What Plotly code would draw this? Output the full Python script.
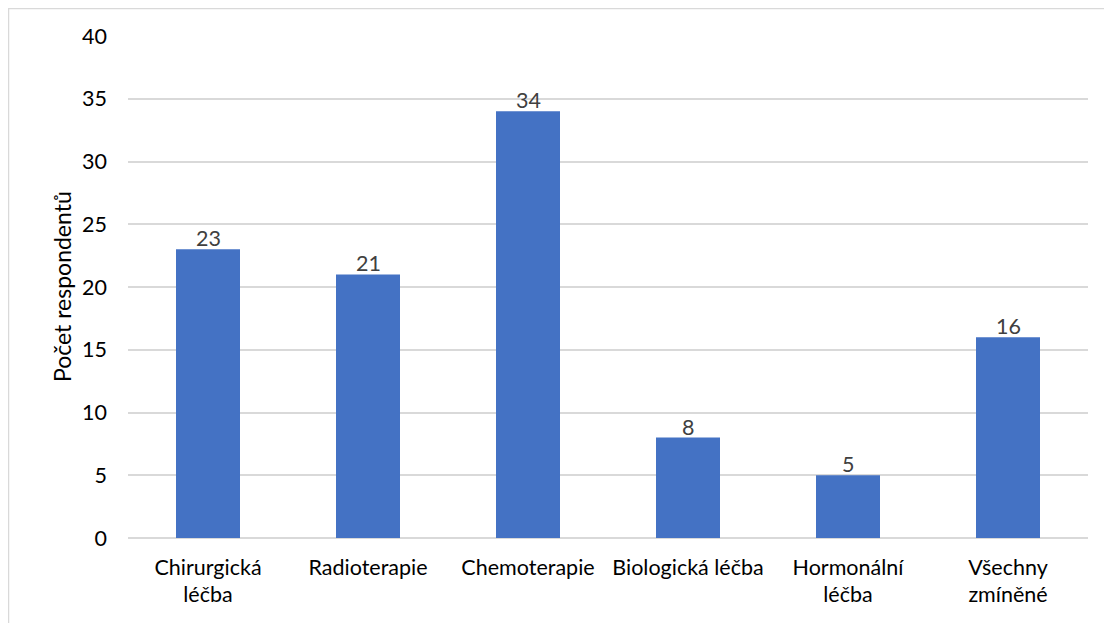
import plotly.graph_objects as go

categories = ["Chirurgická<br>léčba", "Radioterapie", "Chemoterapie", "Biologická léčba", "Hormonální<br>léčba", "Všechny<br>zmíněné"]
values = [23, 21, 34, 8, 5, 16]
y_ticks = [0, 5, 10, 15, 20, 25, 30, 35, 40]

FONT = "Lato, Carlito, Calibri, sans-serif"
FS = 21.5

# page body has an 8px margin; figure sized to fit the 1112x623 window
W, H = 1104, 615
L, R, T, B = 120, 24, 28, 85
pw, ph = W - L - R, H - T - B

fig = go.Figure()
fig.add_trace(go.Bar(
    x=categories, y=values,
    marker=dict(color="#4472C4", line=dict(width=0)),
))

fig.add_annotation(text="Počet respondentů", xref="paper", yref="paper",
                   x=-66 / pw, y=0.5, textangle=-90, showarrow=False,
                   xanchor="center", yanchor="middle",
                   font=dict(size=23, color="#000000", family=FONT))

for c, v in zip(categories, values):
    fig.add_annotation(x=c, y=v, xref="x", yref="y", text=str(v), showarrow=False,
                       xanchor="center", yanchor="bottom", yshift=-4,
                       font=dict(size=FS, color="#404040", family=FONT))

fig.update_layout(
    width=W, height=H,
    margin=dict(l=L, r=R, t=T, b=B),
    paper_bgcolor="white", plot_bgcolor="white",
    bargap=0.6,
    showlegend=False,
    font=dict(family=FONT, size=FS, color="#000000"),
    xaxis=dict(
        showgrid=False, showline=False, ticks="",
        tickfont=dict(size=FS, color="#000000"),
        ticklabelstandoff=14,
    ),
    yaxis=dict(
        range=[0, 40], tickvals=y_ticks,
        showgrid=True, gridcolor="#D9D9D9", gridwidth=1.5,
        zeroline=True, zerolinecolor="#D9D9D9", zerolinewidth=1.5,
        showline=False, ticks="",
        tickfont=dict(size=FS, color="#000000"),
        ticklabelstandoff=20,
    ),
    shapes=[dict(type="rect", xref="paper", yref="paper",
                 x0=-119.5 / pw, x1=1.2, y0=-1.0, y1=1 + 27.5 / ph,
                 line=dict(color="#D9D9D9", width=1.5), fillcolor="rgba(0,0,0,0)",
                 layer="below")],
)

fig.write_html("out.html")
